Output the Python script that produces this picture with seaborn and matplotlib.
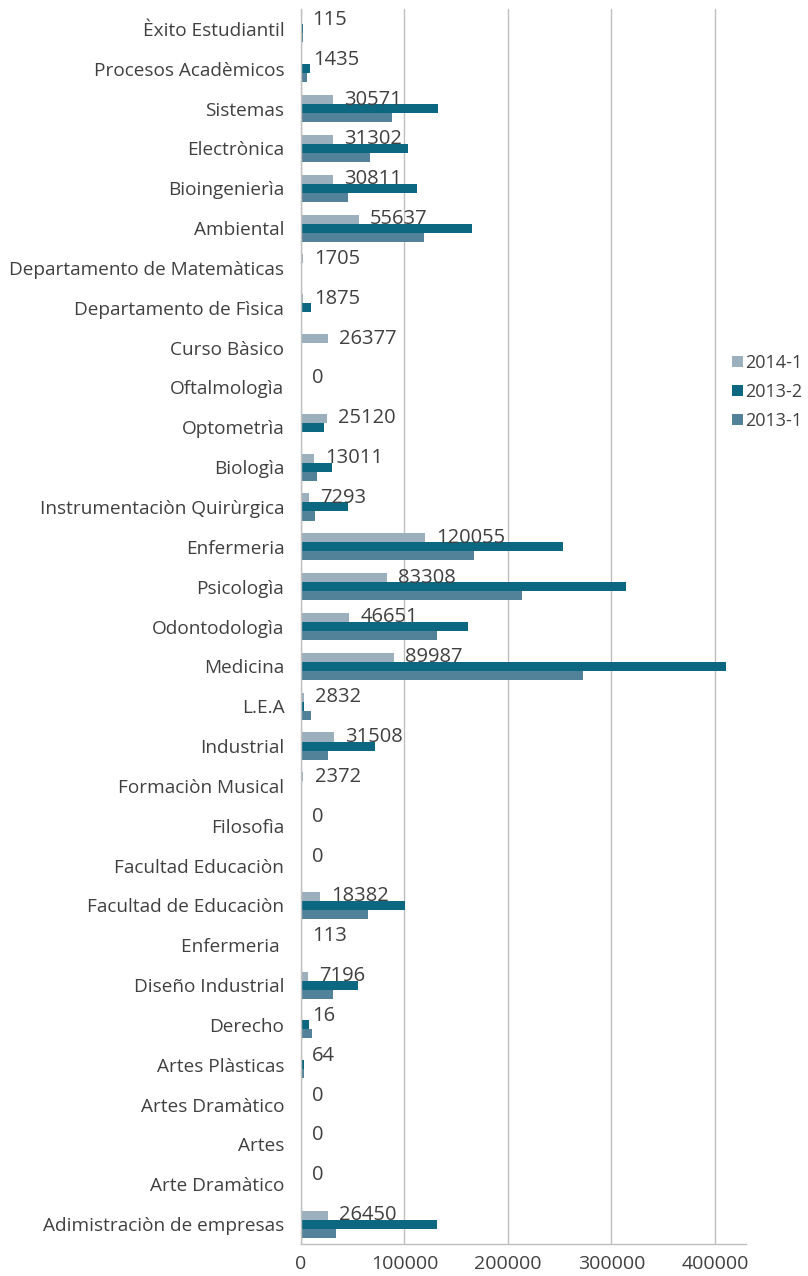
import numpy as np
import pandas as pd
import matplotlib
matplotlib.use("Agg")
import matplotlib.pyplot as plt
import seaborn as sns
from matplotlib.patches import Patch

categories = [
    "Èxito Estudiantil", "Procesos Acadèmicos", "Sistemas", "Electrònica",
    "Bioingenierìa", "Ambiental", "Departamento de Matemàticas",
    "Departamento de Fìsica", "Curso Bàsico", "Oftalmologìa", "Optometrìa",
    "Biologìa", "Instrumentaciòn Quirùrgica", "Enfermeria", "Psicologìa",
    "Odontodologìa", "Medicina", "L.E.A", "Industrial", "Formaciòn Musical",
    "Filosofìa", "Facultad Educaciòn", "Facultad de Educaciòn", "Enfermeria ",
    "Diseño Industrial", "Derecho", "Artes Plàsticas", "Artes Dramàtico",
    "Artes", "Arte Dramàtico", "Adimistraciòn de empresas",
]
series_names = ["2014-1", "2013-2", "2013-1"]

v2014_1 = [115, 1435, 30571, 31302, 30811, 55637, 1705, 1875, 26377, 0, 25120,
           13011, 7293, 120055, 83308, 46651, 89987, 2832, 31508, 2372, 0, 0,
           18382, 113, 7196, 16, 64, 0, 0, 0, 26450]
v2013_2 = [2000, 8700, 132000, 103000, 112000, 165000, 0, 9700, 0, 0, 22000,
           30000, 45400, 253000, 314000, 161000, 410500, 2900, 71500, 0, 0, 0,
           100500, 0, 55000, 7700, 2900, 0, 0, 0, 131000]
v2013_1 = [1500, 5800, 88000, 66700, 45400, 119000, 0, 0, 0, 0, 0,
           15500, 13500, 167000, 213500, 131000, 272500, 9700, 26000, 0, 0, 0,
           64700, 0, 31000, 10600, 2900, 0, 0, 0, 33800]

colors = ["#9BAFBD", "#0B6880", "#52819A"]
text_color = "#404040"

df = pd.DataFrame({
    "category": categories * 3,
    "series": np.repeat(series_names, len(categories)),
    "value": v2014_1 + v2013_2 + v2013_1,
})

sns.set_theme(style="white")
plt.rcParams["font.family"] = ["Open Sans", "DejaVu Sans"]

fig = plt.figure(figsize=(8.08, 12.76), dpi=100)
ax = fig.add_axes([301 / 808, 1 - 1244 / 1276, (746 - 301) / 808, (1244 - 9) / 1276])

sns.barplot(data=df, x="value", y="category", hue="series", order=categories,
            hue_order=series_names, palette=colors, orient="h", width=0.68,
            saturation=1, linewidth=0, edgecolor="none", ax=ax, legend=False)

ax.set_xlim(0, 430000)
ax.set_xticks([0, 100000, 200000, 300000, 400000])
ax.set_xticklabels(["0", "100000", "200000", "300000", "400000"])
ax.set_xlabel("")
ax.set_ylabel("")
ax.grid(axis="x", color="#BFBFBF", linewidth=1)
ax.grid(axis="y", visible=False)
ax.set_axisbelow(True)
for s in ["top", "right"]:
    ax.spines[s].set_visible(False)
for s in ["left", "bottom"]:
    ax.spines[s].set_color("#BFBFBF")
    ax.spines[s].set_linewidth(1)
ax.tick_params(axis="both", length=0, labelcolor=text_color)
ax.tick_params(axis="x", labelsize=14, pad=8)
ax.tick_params(axis="y", labelsize=13.7, pad=12)

ax.bar_label(ax.containers[0], labels=[str(v) for v in v2014_1], padding=8,
             fontsize=14.5, color=text_color)

handles = [Patch(facecolor=c, edgecolor="none") for c in colors]
fig.legend(handles, series_names, loc="upper left",
           bbox_to_anchor=(732 / 808, 1 - 354 / 1276), frameon=False,
           fontsize=13, handlelength=0.6, handleheight=0.6, handletextpad=0.15,
           labelspacing=0.6, borderaxespad=0, borderpad=0,
           labelcolor=text_color)

fig.savefig("out.png", dpi=100)
